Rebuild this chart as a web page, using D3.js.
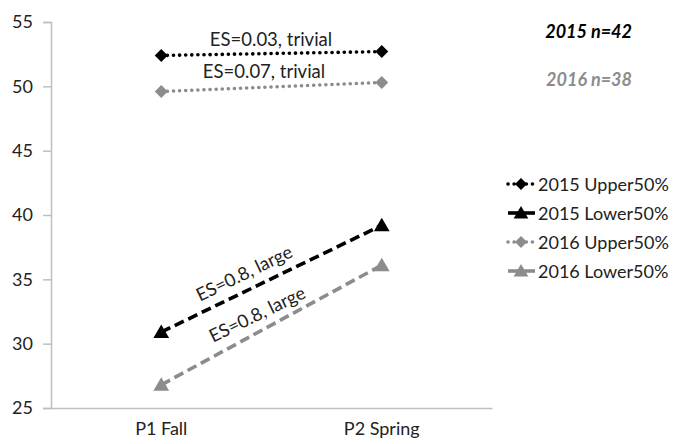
<!DOCTYPE html>
<html><head><meta charset="utf-8">
<script src="https://cdn.jsdelivr.net/npm/d3@7"></script>
<style>body{margin:0;background:#fff}svg{display:block;font-family:Lato,"Open Sans",sans-serif}</style>
</head><body><svg id="c" width="673" height="444"></svg>
<script>
const categories = ["P1 Fall", "P2 Spring"];
const seriesNames = ["2015 Upper50%", "2015 Lower50%", "2016 Upper50%", "2016 Lower50%"];
const upper2015 = [52.4, 52.7];
const lower2015 = [30.9, 39.2];
const upper2016 = [49.6, 50.3];
const lower2016 = [26.8, 36.1];
const yTicks = [25, 30, 35, 40, 45, 50, 55];
const esLabels = ["ES=0.03, trivial", "ES=0.8, large", "ES=0.07, trivial", "ES=0.8, large"];
const nLabels = ["2015 n=42", "2016 n=38"];

const series = [
  {name: seriesNames[0], values: upper2015, color: "#000", dash: "0.1,6", cap: "round", width: 3.6, marker: "diamond"},
  {name: seriesNames[1], values: lower2015, color: "#000", dash: "10,5", cap: "butt", width: 3.6, marker: "triangle"},
  {name: seriesNames[2], values: upper2016, color: "#8c8c8c", dash: "0.1,6", cap: "round", width: 3.6, marker: "diamond"},
  {name: seriesNames[3], values: lower2016, color: "#8c8c8c", dash: "10,5", cap: "butt", width: 3.6, marker: "triangle"}
];

const svg = d3.select("#c");
const x = d3.scaleBand().domain(categories).range([51, 492]);
const y = d3.scaleLinear().domain([25, 55]).range([408, 22]);
const cx = c => x(c) + x.bandwidth() / 2;

// axes
const yAx = svg.append("g").attr("transform", "translate(51,0)")
  .call(d3.axisLeft(y).tickValues(yTicks).tickSize(8).tickPadding(10));
yAx.select(".domain").attr("stroke", "#bfbfbf").attr("stroke-width", 1.5);
yAx.selectAll(".tick line").attr("stroke", "#bfbfbf").attr("stroke-width", 1.5);
yAx.selectAll(".tick text").attr("font-size", 18).attr("fill", "#222").attr("font-family", "Lato, sans-serif");

const xAx = svg.append("g").attr("transform", "translate(0,408)")
  .call(d3.axisBottom(x).tickSize(0).tickPadding(14));
xAx.select(".domain").attr("stroke", "#bfbfbf").attr("stroke-width", 1.5);
xAx.selectAll(".tick text").attr("font-size", 18).attr("fill", "#222").attr("font-family", "Lato, sans-serif");

const markerPath = (m, s) => m === "diamond"
  ? `M0,${-s}L${s},0L0,${s}L${-s},0Z`
  : `M0,${-s}L${s * 1.05},${s * 0.8}L${-s * 1.05},${s * 0.8}Z`;
const line = d3.line().x((d, i) => cx(categories[i])).y(d => y(d));

series.forEach(s => {
  svg.append("path").attr("d", line(s.values)).attr("fill", "none")
    .attr("stroke", s.color).attr("stroke-width", s.width).attr("stroke-dasharray", s.dash)
    .attr("stroke-linecap", s.cap);
  s.values.forEach((v, i) => {
    svg.append("path").attr("d", markerPath(s.marker, s.marker === "diamond" ? 6.5 : 7.5))
      .attr("transform", `translate(${cx(categories[i])},${y(v)})`).attr("fill", s.color);
  });
});

// ES labels
svg.append("text").attr("x", 271).attr("y", 46).attr("text-anchor", "middle")
  .attr("font-size", 18.5).attr("fill", "#222").text(esLabels[0]);
svg.append("text").attr("x", 264).attr("y", 78).attr("text-anchor", "middle")
  .attr("font-size", 18.5).attr("fill", "#222").text(esLabels[2]);
const ang = Math.atan2(y(lower2015[1]) - y(lower2015[0]), cx(categories[1]) - cx(categories[0])) * 180 / Math.PI;
svg.append("text").attr("transform", `translate(247,279) rotate(${ang})`).attr("text-anchor", "middle")
  .attr("font-size", 18.3).attr("fill", "#222").text(esLabels[1]);
svg.append("text").attr("transform", `translate(260,320) rotate(${ang})`).attr("text-anchor", "middle")
  .attr("font-size", 18.3).attr("fill", "#222").text(esLabels[3]);

// n labels
svg.append("text").attr("x", 632).attr("y", 38).attr("text-anchor", "end")
  .attr("font-size", 18).attr("font-weight", "bold").attr("font-style", "italic").attr("fill", "#000").text(nLabels[0]);
svg.append("text").attr("x", 632).attr("y", 86).attr("text-anchor", "end")
  .attr("font-size", 18).attr("font-weight", "bold").attr("font-style", "italic").attr("fill", "#8c8c8c").text(nLabels[1]);

// legend
const lg = svg.append("g");
series.forEach((s, i) => {
  const ly = 184 + i * 29;
  lg.append("line").attr("x1", 508).attr("x2", 535).attr("y1", ly).attr("y2", ly)
    .attr("stroke", s.color).attr("stroke-width", s.width)
    .attr("stroke-dasharray", s.marker === "diamond" ? "0.1,6" : null)
    .attr("stroke-linecap", s.marker === "diamond" ? "round" : "butt");
  lg.append("path").attr("d", markerPath(s.marker, s.marker === "diamond" ? 6 : 7))
    .attr("transform", `translate(521,${ly})`).attr("fill", s.color);
  lg.append("text").attr("x", 538).attr("y", ly + 6.5).attr("font-size", 18).attr("fill", "#222").text(s.name);
});
</script></body></html>
